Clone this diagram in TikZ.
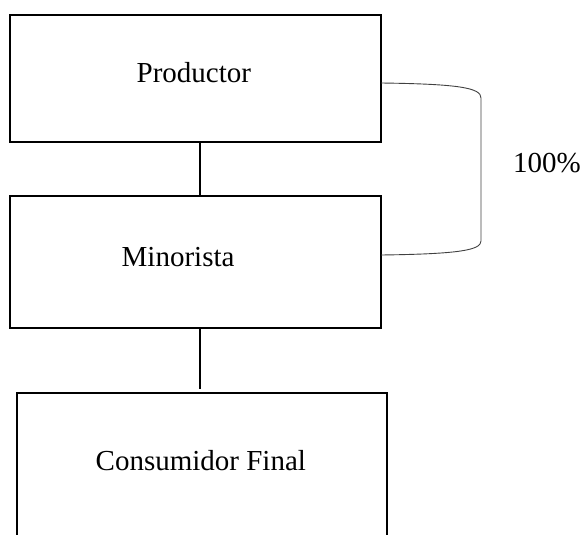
\documentclass[tikz,border=0pt]{standalone}
\usepackage{fontspec}
\setmainfont{Liberation Serif}
\begin{document}
\begin{tikzpicture}[x=1pt,y=-1pt,
  box/.style={draw=black,line width=1.8pt,rectangle,inner sep=0pt},
  lbl/.style={inner sep=0pt,anchor=base west,font=\fontsize{29}{34}\selectfont},
  link/.style={draw=black,line width=1.8pt},
  bracketline/.style={draw=black!75,line width=0.9pt}]
\useasboundingbox (0,0) rectangle (586,535);
\begin{scope}
\clip (0,0) rectangle (586,535);
\node[box,minimum width=371pt,minimum height=127pt] (prod) at (195.5,78.5) {};
\node[box,minimum width=371pt,minimum height=132pt] (mino) at (195.5,262) {};
\node[box,minimum width=370pt,minimum height=160pt] (cons) at (202,473) {};
\end{scope}
\node[lbl] (tprod) at (136.5,82) {Productor};
\node[lbl] (tmino) at (121.5,266) {Minorista};
\node[lbl] (tcons) at (95.5,470) {Consumidor Final};
\node[lbl] (tpct) at (513,172) {100\%};
\coordinate (p1) at (200,142);
\coordinate (m1) at (200,196);
\coordinate (m2) at (200,328);
\coordinate (c1) at (200,389);
\draw[link] (p1) -- (m1);
\draw[link] (m2) -- (c1);
\coordinate (b1) at (381,83);
\coordinate (b2) at (381,255);
\draw[bracketline] (b1) .. controls (460,84) and (481,88) .. (481,98)
  -- (481,241) .. controls (481,250) and (460,254) .. (b2);
\end{tikzpicture}
\end{document}
